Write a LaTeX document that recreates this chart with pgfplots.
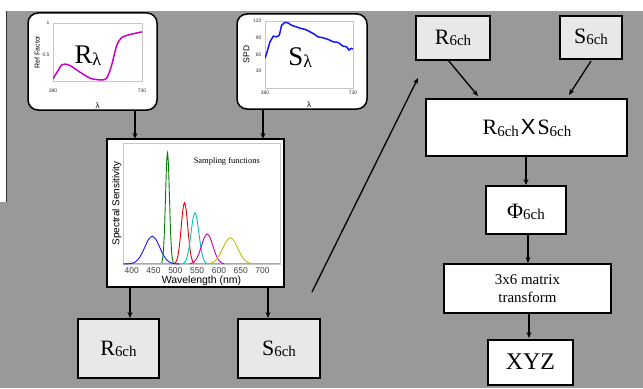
\documentclass[border=0pt]{standalone}
\usepackage{fontspec}
\setmainfont{Liberation Serif}
\newfontfamily\arial{Liberation Sans}
\usepackage{pgfplots}
\pgfplotsset{compat=1.18}
\usetikzlibrary{arrows.meta}
\definecolor{bg}{RGB}{153,153,153}
\definecolor{boxg}{RGB}{232,232,232}
\definecolor{clrb}{RGB}{20,20,255}
\definecolor{clrg}{RGB}{0,128,0}
\definecolor{clrr}{RGB}{230,0,0}
\definecolor{clrc}{RGB}{0,191,191}
\definecolor{clrm}{RGB}{191,0,191}
\definecolor{clry}{RGB}{191,191,0}
\definecolor{rmag}{RGB}{200,0,200}
\newcommand{\chs}[1]{{\fontsize{22}{22}\selectfont #1\raisebox{-1.5pt}{\fontsize{15}{15}\selectfont 6ch}}}
\pgfplotsset{smallax/.style={scale only axis, axis line style={gray!45, line width=0.5bp},
    tick style={draw=none}, major tick length=0pt,
    /pgf/number format/assume math mode=true,
    ticklabel style={font=\arial\fontsize{5}{5}\selectfont, text=black!80},
    xtick pos=bottom, ytick pos=left, clip=true}}
\begin{document}
\begin{tikzpicture}[x=1bp,y=1bp,
  arr/.style={line width=1.3bp,-{Stealth[length=6bp,width=5bp]}}]
\fill[white] (0,0) rectangle (643,388);
\fill[bg] (7,0) rectangle (643,377);
\fill[bg] (0,0) rectangle (7,186);
\draw[black!80, line width=1.5bp] (6.5,377) -- (6.5,186);

% rounded boxes
\draw[fill=white, line width=1.5bp, rounded corners=10bp] (28,278) rectangle (157,375);
\draw[fill=white, line width=1.5bp, rounded corners=10bp] (237,279) rectangle (367,374);
\draw[arr] (135,278) -- (135,249);
\draw[arr] (263,279) -- (263,249);
% sampling box
\draw[fill=white, line width=1.3bp] (107,101) rectangle (284,249);
\draw[arr] (130,101) -- (130,70);
\draw[arr] (268,101) -- (268,70);
% bottom boxes
\draw[fill=boxg, line width=1.2bp] (78,10) rectangle (159,69);
\node at (118.5,39) {\chs{R}};
\draw[fill=boxg, line width=1.2bp] (238,10) rectangle (320,69);
\node at (279,39) {\chs{S}};
% long arrow
\draw[arr] (312,96) -- (418,310);
% right column
\draw[fill=boxg, line width=1.2bp] (416,328) rectangle (490,372);
\node at (453,350) {\chs{R}};
\draw[fill=boxg, line width=1.2bp] (560,329) rectangle (622,372);
\node at (591,351) {\chs{S}};
\draw[arr] (448,328) -- (478,292);
\draw[arr] (591,327) -- (569,293);
\draw[fill=white, line width=1.2bp] (426,232) rectangle (627,289);
\node at (527,260) {\chs{R}\hspace{2bp}{\arial\fontsize{22}{22}\selectfont X}\hspace{2bp}\chs{S}};
\draw[arr] (526,232) -- (526,203);
\draw[fill=white, line width=1.2bp] (486,154) rectangle (566,202);
\node at (526,176) {\chs{Φ}};
\draw[arr] (528,154) -- (528,125);
\draw[fill=white, line width=1.2bp] (444,75) rectangle (611,124);
\node[align=center, font=\fontsize{15}{18}\selectfont] at (527.5,99.5) {3x6 matrix\\transform};
\draw[arr] (529,75) -- (529,50);
\draw[fill=white, line width=1.2bp] (488,3) rectangle (573,48);
\node[font=\fontsize{24}{24}\selectfont] at (530.5,26) {XYZ};

% Ref factor plot
\begin{axis}[smallax, at={(53bp,307bp)}, anchor=south west, width=89bp, height=58bp,
  xmin=380, xmax=730, ymin=0.1, ymax=1, xtick={380,730}, ytick={0.5,1},
  yticklabels={0.5,1},
  xticklabel style={yshift=-5bp},
  xlabel={λ}, xlabel style={font=\arial\fontsize{8}{8}\selectfont, yshift=-3bp},
  ylabel={Ref Factor}, ylabel style={font=\arial\fontsize{7}{7}\selectfont, yshift=-4bp}]
\addplot[color=rmag, line width=1.5bp, smooth] coordinates {
(380,0.133) (395.6,0.235) (415,0.352) (428,0.362) (448,0.337) (487,0.235)
(526,0.143) (552,0.122) (571,0.117) (591,0.143) (610,0.337) (630,0.643)
(649,0.77) (682,0.82) (730,0.862)};
\node at (axis cs:517,0.50) {{\fontsize{27}{27}\selectfont R\raisebox{-2bp}{\fontsize{18}{18}\selectfont λ}}};
\end{axis}

% SPD plot
\begin{axis}[smallax, at={(265bp,300bp)}, anchor=south west, width=88bp, height=67bp,
  xmin=380, xmax=730, ymin=0, ymax=120, xtick={380,730}, ytick={30,60,90,120},
  xlabel={λ}, xlabel style={font=\arial\fontsize{8}{8}\selectfont, yshift=0bp},
  ylabel={SPD}, ylabel style={font=\arial\fontsize{8.5}{8.5}\selectfont, yshift=-3bp}]
\addplot[color=clrb, line width=1.5bp] coordinates {
(380,53.2) (386.6,62) (399.8,82.8) (413,92.8) (426,91.6) (437,94.6) (446,112.3)
(459,117.6) (472,116.5) (486,112.3) (505,109.4) (525,106.4) (538,105.2)
(552,102.3) (572,97.5) (591,91.6) (611,89.9) (631,86.9) (651,82.8) (671,81.6)
(690,75) (704,73.9) (714,68) (723,70.9) (730,69.8)};
\node at (axis cs:520,54) {{\fontsize{27}{27}\selectfont S\raisebox{-2bp}{\fontsize{18}{18}\selectfont λ}}};
\end{axis}

% Sampling functions plot
\begin{axis}[smallax, at={(123bp,124bp)}, anchor=south west, width=157bp, height=121bp,
  xmin=380, xmax=740, ymin=0, ymax=1.087, xtick={400,450,...,700}, ytick=\empty,
  ticklabel style={font=\arial\fontsize{8.5}{8.5}\selectfont, text=black!75},
  xlabel={Wavelength (nm)}, xlabel style={font=\arial\fontsize{10.5}{10.5}\selectfont, yshift=4bp},
  ylabel={Spectral Sensitivity}, ylabel style={font=\arial\fontsize{10}{10}\selectfont, yshift=-2bp}]
\addplot[color=clry, line width=0.9bp] coordinates {(380,0.002) (740,0.002)};
\addplot[color=clrb, line width=0.9bp, smooth, tension=0.5] coordinates {
(380,0) (396,0.0028) (404.5,0.011) (413,0.0338) (421.5,0.0812) (430,0.1516) (438.5,0.2206)
(447,0.25) (455.5,0.2206) (464,0.1516) (472.5,0.0812) (481,0.0338) (489.5,0.011) (498,0.0028) (510,0)};
\addplot[color=clrg, line width=0.9bp, smooth, tension=0.5] coordinates {
(468.5,0.011) (470.75,0.0439) (473,0.1353) (475.25,0.3247) (477.5,0.6065) (479.75,0.8825)
(482,1) (484.25,0.8825) (486.5,0.6065) (488.75,0.3247) (491,0.1353) (493.25,0.0439) (495.5,0.011)};
\addplot[color=clrr, line width=0.9bp, smooth, tension=0.5] coordinates {
(498.5,0.0061) (502.25,0.0241) (506,0.0744) (509.75,0.1786) (513.5,0.3336) (517.25,0.4854)
(521,0.55) (524.75,0.4854) (528.5,0.3336) (532.25,0.1786) (536,0.0744) (539.75,0.0241) (543.5,0.0061)};
\addplot[color=clrc, line width=0.9bp, smooth, tension=0.5] coordinates {
(518,0.0051) (522.5,0.0202) (527,0.0622) (531.5,0.1494) (536,0.279) (540.5,0.406)
(545,0.46) (549.5,0.406) (554,0.279) (558.5,0.1494) (563,0.0622) (567.5,0.0202) (572,0.0051)};
\addplot[color=clrm, line width=0.9bp, smooth, tension=0.5] coordinates {
(534,0.003) (540.5,0.0119) (547,0.0365) (553.5,0.0877) (560,0.1638) (566.5,0.2383)
(573,0.27) (579.5,0.2383) (586,0.1638) (592.5,0.0877) (599,0.0365) (605.5,0.0119) (612,0.003)};
\addplot[color=clry, line width=0.9bp, smooth, tension=0.5] coordinates {
(575,0.0026) (583.5,0.0103) (592,0.0318) (600.5,0.0763) (609,0.1425) (617.5,0.2074)
(626,0.235) (634.5,0.2074) (643,0.1425) (651.5,0.0763) (660,0.0318) (668.5,0.0103) (677,0.0026)};
\node[font=\fontsize{8.5}{8.5}\selectfont] at (axis cs:618,0.925) {Sampling functions};
\end{axis}
\pgfresetboundingbox
\useasboundingbox (0,0) rectangle (643,388);
\end{tikzpicture}
\end{document}
